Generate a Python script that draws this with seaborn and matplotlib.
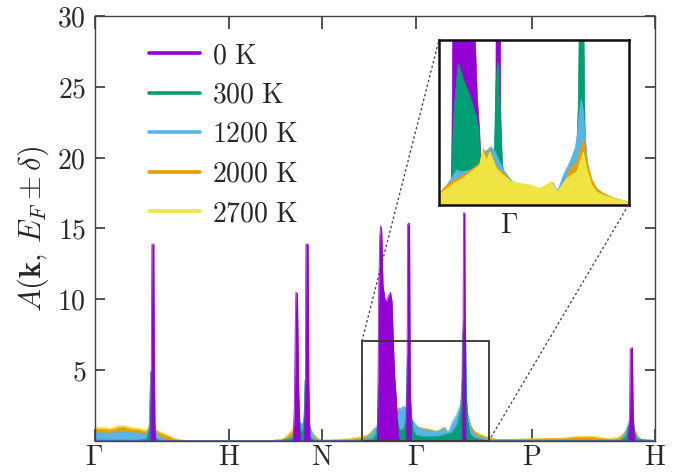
import numpy as np
import pandas as pd
import matplotlib
matplotlib.use("Agg")
import matplotlib.pyplot as plt
from matplotlib.lines import Line2D
from matplotlib.patches import Rectangle, ConnectionPatch
import seaborn as sns

# ---------------- data (path coordinate k along Γ-H-N-Γ-P-H, spectral weight A) ----------------
path_ticks = [0, 134, 227, 321, 437, 560]
path_labels = [r"$\Gamma$", r"$\mathrm{H}$", r"$\mathrm{N}$", r"$\Gamma$", r"$\mathrm{P}$", r"$\mathrm{H}$"]
temperatures = ["0 K", "300 K", "1200 K", "2000 K", "2700 K"]
colors = ["#9400D3", "#009E73", "#56B4E9", "#E69F00", "#F0E442"]

k_0K = [0, 56.2, 56.9, 57.3, 59.3, 59.8, 60.6,
        198.5, 199.8, 200.5, 201.2, 202.8, 203.6, 204.5, 205.5,
        209.5, 210.6, 211.2, 213.4, 214.2, 215.3,
        282.6, 283.3, 284, 285, 286, 287, 288.3, 290, 291.7, 293.3, 295.7, 297.3, 298.5, 300, 301.5, 302.5, 303.5, 305,
        311.3, 312.2, 312.8, 314.8, 315.5, 316.5,
        367.5, 368.2, 368.6, 370.0, 370.4, 371,
        533.5, 534.6, 535.2, 537.5, 538.2, 539.3, 560]
A_0K = [0, 0, 8, 13.9, 13.9, 6, 0,
        0, 3, 8, 10.5, 10.4, 6, 1.5, 0,
        0, 4, 13.9, 13.9, 4, 0,
        0, 5, 11, 14.5, 15.2, 14.8, 11.0, 10.1, 9.85, 10.2, 10.5, 9.85, 7.2, 4.5, 3.1, 1.5, 0.4, 0,
        0, 4, 15.3, 15.4, 4, 0,
        0, 8, 16.1, 16.1, 8, 0,
        0, 2, 6.5, 6.6, 2, 0, 0]

k_300K = [0, 45, 52, 54.5, 55.5, 56.2, 56.8, 57.3, 58, 60, 61.5, 65, 85, 185,
          197, 201, 203, 203.8, 204.6, 206, 208, 209.5, 210.3, 211.2, 213, 216, 220, 265,
          277, 281, 282.7, 283.7, 284.9, 287.1, 288.2, 290.4, 294.9, 299.3, 301.1, 302.2, 303.7,
          306, 309, 311, 312.2, 313.3, 314.4, 315.3, 316.7, 318.2, 321, 330, 345, 357, 363,
          366.0, 367.1, 367.6, 369.3, 370.8, 371.5, 372.5, 375, 380, 390,
          525, 531, 533.7, 535, 537, 538.3, 539.5, 542, 560]
A_300K = [0.06, 0.06, 0.15, 0.8, 3.5, 4.9, 4.9, 2.0, 0.8, 0.6, 0.2, 0.05, 0.02, 0.02,
          0.2, 0.6, 2.0, 3.7, 2.0, 0.7, 0.7, 2.0, 4.3, 2.0, 0.6, 0.2, 0.05, 0.05,
          0.1, 0.4, 1.0, 3.1, 4.4, 6.0, 5.85, 5.37, 4.66, 3.8, 3.1, 1.8, 1.0,
          0.7, 0.9, 1.6, 5.1, 6.07, 5.9, 3.7, 1.8, 0.8, 0.4, 0.3, 0.35, 0.6, 1.2,
          2.5, 4.4, 7.5, 8.5, 7.5, 3.5, 1.5, 0.5, 0.2, 0.05,
          0.05, 0.3, 1.1, 0.6, 1.2, 1.65, 0.6, 0.1, 0.05]

k_1200K = [0, 5, 10, 15, 20, 25, 30, 35, 40, 45, 50, 53, 55, 56.5, 59.5, 61, 63, 67, 71, 77, 85, 185,
           193, 197, 200, 202, 204, 207, 209, 212, 215, 218, 221, 225, 265,
           273, 278, 282.7, 286, 290.4, 294.9, 299.3, 301.5, 303.7, 306, 308.9, 311.5, 315.3, 318.2, 321.5,
           325, 330, 335, 341, 346, 350.4, 352.7, 354, 357.1, 361.5, 364.9, 366.4, 367.5, 369, 370.4,
           371.5, 372.7, 373.7, 376, 379, 383, 390, 400,
           525, 528, 531.7, 534.3, 536, 538.3, 541.7, 545, 560]
A_1200K = [0.61, 0.6, 0.58, 0.55, 0.62, 0.7, 0.68, 0.6, 0.58, 0.55, 0.47, 0.65, 1.1, 1.35, 1.35, 0.8, 0.4, 0.2, 0.12, 0.05, 0.03, 0.03,
           0.15, 0.35, 0.6, 1.0, 1.2, 1.25, 1.3, 1.3, 1.1, 0.45, 0.15, 0.05, 0.05,
           0.3, 0.7, 1.13, 1.48, 1.41, 1.48, 1.6, 1.77, 2.26, 2.3, 2.47, 2.3, 1.77, 1.41, 1.13,
           0.88, 0.8, 0.75, 0.68, 0.78, 0.95, 0.62, 0.7, 1.27, 1.83, 2.4, 2.97, 3.8, 4.5, 4.0,
           3.1, 2.1, 1.57, 0.85, 0.5, 0.3, 0.15, 0.08,
           0.08, 0.3, 0.9, 1.37, 1.3, 0.9, 0.3, 0.08, 0.05]

k_2000K = [0, 5, 10, 15, 20, 25, 30, 35, 40, 45, 50, 55, 58, 62, 65, 69, 73, 77, 81, 85, 91, 175,
           188, 193, 197, 200, 204, 208, 212, 216, 220, 223, 227, 245, 255, 265, 271, 275, 278,
           282.7, 290.4, 297.1, 301.5, 303.7, 306, 307.7, 312.7, 318.2, 322.7, 328.2, 334.9, 341.5,
           349.3, 353.1, 359.3, 361.5, 366, 370.4, 372.7, 376, 379.3, 383.7, 390.4, 399.3, 405,
           425, 450, 470, 478, 490, 498, 505, 517, 523, 527, 530, 533.3, 537, 540, 543.3, 546.7, 551.7, 560]
A_2000K = [0.85, 0.8, 0.82, 0.78, 0.85, 0.97, 0.95, 0.85, 0.8, 0.78, 0.65, 0.85, 0.9, 0.7, 0.55, 0.45, 0.35, 0.2, 0.1, 0.06, 0.03, 0.03,
           0.1, 0.35, 0.65, 0.9, 1.05, 1.05, 1.1, 0.65, 0.35, 0.15, 0.05, 0.07, 0.13, 0.22, 0.35, 0.5, 0.75,
           0.99, 1.27, 1.55, 1.77, 2.4, 2.05, 2.4, 1.6, 1.3, 0.97, 0.88, 0.8, 0.65,
           0.93, 0.5, 1.15, 1.55, 1.8, 2.83, 1.9, 1.1, 0.7, 0.5, 0.3, 0.15, 0.1,
           0.12, 0.15, 0.18, 0.26, 0.28, 0.26, 0.18, 0.12, 0.18, 0.38, 0.6, 0.9, 0.95, 0.7, 0.28, 0.1, 0.04, 0.03]

k_2700K = [0, 5, 10, 15, 20, 25, 30, 35, 40, 45, 50, 55, 58, 62, 65, 69, 73, 77, 81, 85, 91, 100, 175,
           188, 193, 196.7, 198.3, 202, 206, 210, 214, 216.7, 220, 223.3, 226.7, 235, 245, 255, 265, 270,
           274.8, 278, 281.5, 285, 290.4, 297.1, 301.5, 303.3, 306, 308.2, 312.7, 317.1, 322.7, 328.2,
           334.9, 341.5, 349.3, 353.1, 359.3, 366, 370.4, 372.7, 376, 379.3, 383.7, 390.4, 399.3, 405,
           425, 445, 460, 471.7, 480, 490, 502, 511.7, 521.7, 526.7, 530, 533.3, 537, 540, 543.3, 546.7, 551.7, 560]
A_2700K = [1.0, 0.95, 0.98, 0.9, 1.0, 1.12, 1.1, 1.0, 0.95, 0.9, 0.8, 0.95, 1.0, 0.8, 0.7, 0.55, 0.45, 0.3, 0.18, 0.1, 0.06, 0.03, 0.04,
           0.14, 0.43, 0.78, 1.0, 1.2, 1.2, 1.25, 1.2, 0.78, 0.43, 0.19, 0.05, 0.05, 0.1, 0.18, 0.3, 0.38,
           0.45, 0.62, 0.78, 0.95, 1.13, 1.48, 1.7, 2.33, 1.9, 2.26, 1.55, 1.27, 0.99, 0.92,
           0.85, 0.7, 0.99, 0.56, 1.13, 1.41, 2.26, 1.55, 0.85, 0.56, 0.42, 0.28, 0.14, 0.12,
           0.14, 0.2, 0.18, 0.24, 0.3, 0.33, 0.33, 0.19, 0.24, 0.43, 0.66, 1.0, 1.1, 0.78, 0.31, 0.12, 0.05, 0.04]

series_k = [k_0K, k_300K, k_1200K, k_2000K, k_2700K]
series_A = [A_0K, A_300K, A_1200K, A_2000K, A_2700K]

frames = []
for T, kk, aa in zip(temperatures, series_k, series_A):
    frames.append(pd.DataFrame({"k": kk, "A": aa, "T": T}))
df = pd.concat(frames, ignore_index=True)

# ---------------- style ----------------
sns.set_theme(style="ticks")
plt.rcParams["mathtext.fontset"] = "cm"
plt.rcParams["font.family"] = ["DejaVu Serif"]

FS = 20
fig = plt.figure(figsize=(6.84, 4.72), dpi=100)
ax = fig.add_axes([94.5 / 684, 1 - 441 / 472, (655 - 94.5) / 684, (441 - 16) / 472])


def draw(axis, order_front):
    n = len(temperatures)
    for i, (T, c) in enumerate(zip(temperatures, colors)):
        sub = df[df["T"] == T]
        z = (n - i) if order_front == "cold" else (i + 1)
        axis.fill_between(sub["k"].to_numpy(), 0, sub["A"].to_numpy(), color=c,
                          linewidth=0, zorder=z)
        sns.lineplot(data=sub, x="k", y="A", color=c, linewidth=0.5, sort=False,
                     estimator=None, ax=axis, zorder=z, legend=False)


draw(ax, "cold")
ax.set_xlim(0, 560)
ax.set_ylim(0, 30)
ax.set_xticks(path_ticks)
ax.set_xticklabels(path_labels)
ax.set_yticks([5, 10, 15, 20, 25, 30])
ax.set_yticklabels([f"${v}$" for v in [5, 10, 15, 20, 25, 30]])
ax.set_xlabel("")
ax.set_ylabel(r"$A(\mathbf{k},\,E_F\pm\delta)$", fontsize=FS + 2, labelpad=5)
ax.tick_params(axis="x", direction="in", top=True, bottom=True, length=9, width=1.1,
               labelsize=FS, pad=2.5, color="#222222")
ax.tick_params(axis="y", direction="in", left=True, right=True, length=7, width=1.1,
               labelsize=FS, pad=6, color="#222222")
for s in ax.spines.values():
    s.set_color("#444444")
    s.set_linewidth(1.0)
    s.set_zorder(20)

# zoom box
rect = Rectangle((267.3, 0), 394 - 267.3, 7.08, fill=False, edgecolor="#333333",
                 linewidth=1.3, zorder=15)
ax.add_patch(rect)

# legend
handles = [Line2D([0], [0], color=c, lw=2.6) for c in colors]
labels = [rf"$\mathrm{{{t.split()[0]}\ K}}$" for t in temperatures]
fig.legend(handles, labels, loc="upper left", bbox_to_anchor=(149 / 684, 1 - 42 / 472),
           frameon=False, fontsize=FS, handlelength=1.85, handletextpad=0.4,
           labelspacing=0.45, borderpad=0, borderaxespad=0)

# inset
axi = fig.add_axes([439 / 684, 1 - 205 / 472, (628.5 - 439) / 684, (205 - 40) / 472])
draw(axi, "hot")
axi.set_xlim(274.4, 400.4)
axi.set_ylim(0, 7)
axi.set_xticks([321])
axi.set_xticklabels([r"$\Gamma$"])
axi.set_yticks([])
axi.set_xlabel("")
axi.set_ylabel("")
axi.tick_params(axis="x", direction="in", length=14, width=1.3, labelsize=FS, pad=5,
                color="#111111", top=False)
for s in axi.spines.values():
    s.set_color("#111111")
    s.set_linewidth(1.8)
    s.set_zorder(20)

for (xa, ya), (xb, yb) in [((267.3, 7.08), (0, 1)), ((394, 0), (1, 0))]:
    con = ConnectionPatch(xyA=(xa, ya), coordsA=ax.transData, xyB=(xb, yb),
                          coordsB=axi.transAxes, linestyle=(0, (1, 2.5)),
                          color="#444444", linewidth=1.0, zorder=30)
    fig.add_artist(con)

fig.savefig("out.png", dpi=100)
